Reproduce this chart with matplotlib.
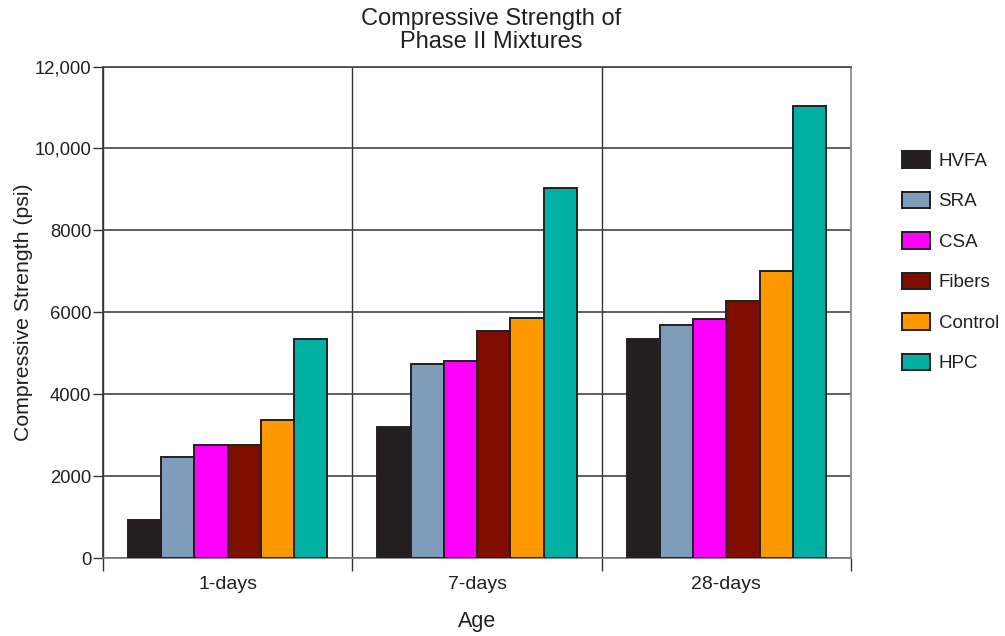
import matplotlib
matplotlib.use("Agg")
import matplotlib.pyplot as plt
import numpy as np
from matplotlib.ticker import FixedLocator, FuncFormatter

plt.rcParams['font.family'] = ['Liberation Sans', 'DejaVu Sans']

ages = ["1-days", "7-days", "28-days"]
mixtures = ["HVFA", "SRA", "CSA", "Fibers", "Control", "HPC"]
hvfa = [940, 3210, 5355]
sra = [2475, 4730, 5700]
csa = [2765, 4805, 5845]
fibers = [2765, 5545, 6285]
control = [3365, 5865, 7005]
hpc = [5350, 9025, 11030]
series = [hvfa, sra, csa, fibers, control, hpc]
colors = ["#231f20", "#7f9dba", "#ff00ff", "#800e00", "#ff9900", "#00b0a2"]
y_ticks = [0, 2000, 4000, 6000, 8000, 10000, 12000]

fig = plt.figure(figsize=(10.05, 6.36), dpi=100)
ax = fig.add_axes([0.1025, 0.1226, 0.7443, 0.7728])

x = np.arange(len(ages))
group_w = 0.8
bar_w = group_w / len(mixtures)
for i, (name, vals, col) in enumerate(zip(mixtures, series, colors)):
    offs = -group_w / 2 + bar_w * (i + 0.5)
    ax.bar(x + offs, vals, width=bar_w, color=col, edgecolor="#231f20",
           linewidth=1.4, label=name, zorder=3)

ax.set_xlim(-0.5, len(ages) - 0.5)
ax.set_ylim(0, 12000)

ax.yaxis.set_major_locator(FixedLocator(y_ticks))
ax.yaxis.set_major_formatter(FuncFormatter(
    lambda v, p: f"{int(v):,}" if v >= 10000 else f"{int(v)}"))
ax.tick_params(axis="y", length=7, width=1.0, color="#333333", pad=1.5,
               labelsize=13.3, labelcolor="#231f20")

ax.set_xticks(x)
ax.set_xticklabels(ages)
ax.tick_params(axis="x", which="major", length=0, pad=13,
               labelsize=14, labelcolor="#231f20")
ax.xaxis.set_minor_locator(FixedLocator(np.arange(-0.5, len(ages), 1.0)))
ax.tick_params(axis="x", which="minor", length=9, width=1.0, color="#333333")

ax.grid(axis="y", which="major", color="#444444", linewidth=1.2, zorder=0)
ax.grid(axis="x", which="minor", color="#333333", linewidth=1.0, zorder=0)
ax.set_axisbelow(True)

ax.spines["top"].set_color("#444444")
ax.spines["left"].set_color("#333333")
ax.spines["right"].set_color("#888888")
ax.spines["bottom"].set_color("#777777")
for s in ax.spines.values():
    s.set_linewidth(1.2)

ax.set_ylabel("Compressive Strength (psi)", fontsize=15.3, color="#231f20", labelpad=1)
ax.set_xlabel("Age", fontsize=15.5, color="#231f20", labelpad=13)
fig.text(0.4885, 0.987, "Compressive Strength of\nPhase II Mixtures", ha="center",
         va="top", fontsize=17, color="#231f20", linespacing=1.06)

leg = fig.legend(loc="upper left", bbox_to_anchor=(0.89, 0.774), frameon=False,
                 fontsize=13.5, handlelength=1.5, handleheight=0.96,
                 handletextpad=0.45, labelspacing=1.17, borderaxespad=0)
for t in leg.get_texts():
    t.set_color("#231f20")

fig.savefig("out.png", dpi=100)
